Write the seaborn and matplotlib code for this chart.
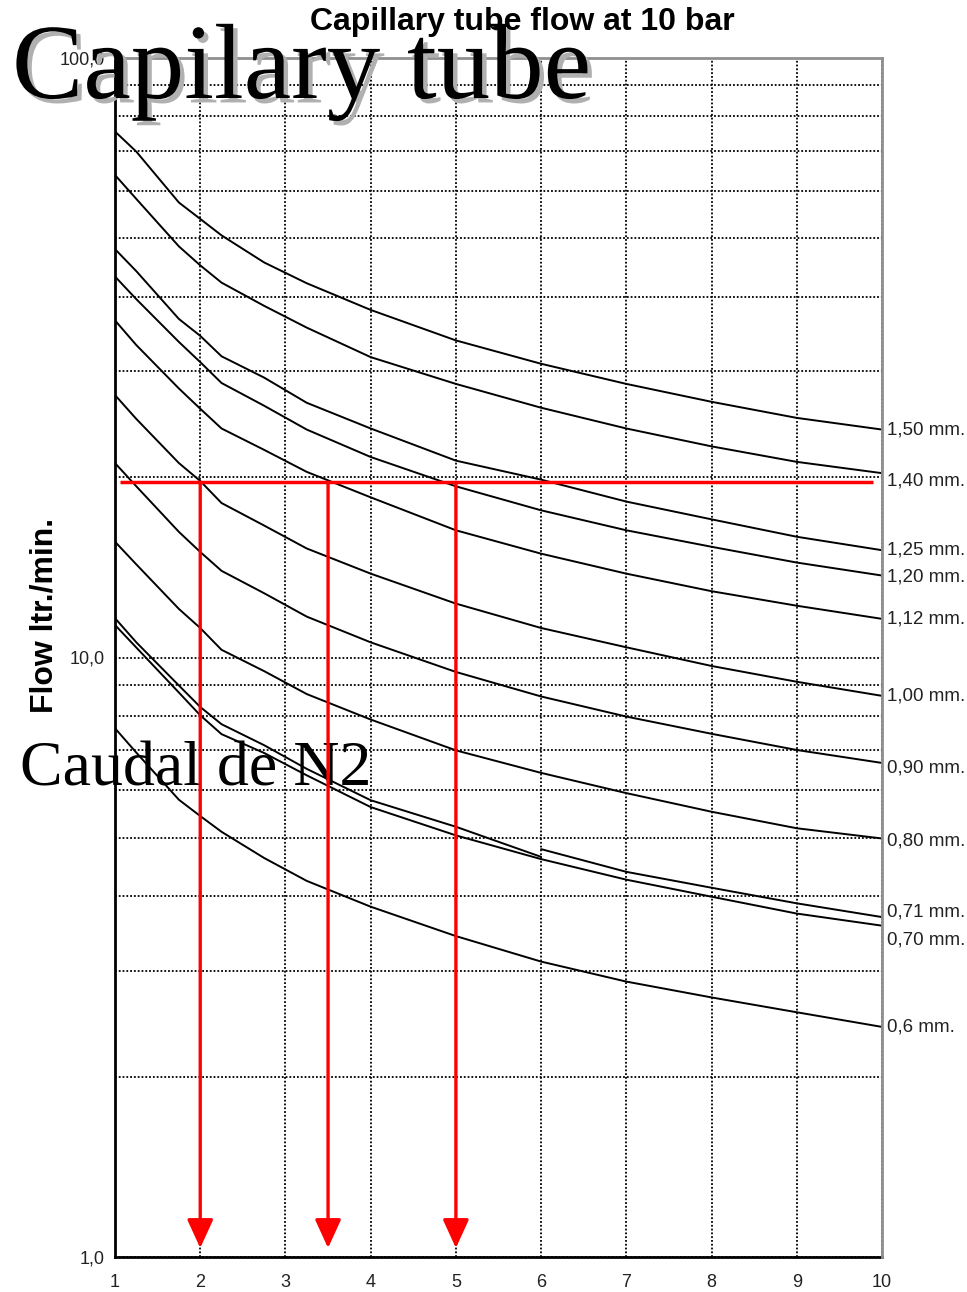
import matplotlib
matplotlib.use("Agg")
import matplotlib.pyplot as plt
import matplotlib.patheffects as pe
from matplotlib.ticker import FixedLocator, FixedFormatter, LogLocator, NullFormatter
import pandas as pd
import seaborn as sns

# Tube length (x axis) sampling points
tube_length = [1, 1.25, 1.75, 2, 2.25, 2.75, 3.25, 4, 5, 6, 7, 8, 9, 10]

# Flow in ltr./min. for each capillary bore
flow_150 = [75.4, 69.8, 57.4, 53.9, 50.6, 45.6, 42.1, 38.0, 33.8, 30.9, 28.6, 26.7, 25.1, 24.0]
flow_140 = [63.8, 58.2, 48.5, 45.1, 42.2, 38.6, 35.5, 31.7, 28.6, 26.1, 24.1, 22.5, 21.2, 20.3]
flow_125 = [48.0, 44.1, 36.7, 34.4, 31.8, 29.3, 26.6, 24.1, 21.3, 19.8, 18.2, 17.0, 15.9, 15.1]
flow_120 = [43.2, 39.6, 33.6, 31.1, 28.7, 26.3, 24.0, 21.6, 19.3, 17.6, 16.3, 15.3, 14.4, 13.7]
flow_112 = [36.5, 33.2, 28.1, 26.0, 24.1, 22.2, 20.4, 18.5, 16.3, 14.9, 13.8, 12.9, 12.2, 11.6]
flow_100 = [27.4, 25.0, 21.1, 19.7, 18.1, 16.6, 15.2, 13.8, 12.3, 11.2, 10.4, 9.68, 9.11, 8.63]
flow_090 = [21.1, 19.3, 16.2, 15.0, 13.95, 12.8, 11.7, 10.6, 9.46, 8.61, 7.97, 7.46, 7.01, 6.67]
flow_080 = [15.6, 14.3, 12.05, 11.2, 10.3, 9.49, 8.69, 7.88, 7.00, 6.42, 5.94, 5.53, 5.19, 4.99]
# 0,71 mm is drawn in two pieces: lengths 1-6 and 6-10
flow_071_short = [11.63, 10.6, 8.98, 8.27, 7.74, 7.14, 6.52, 5.78, 5.22, 4.65]
flow_071_long = [4.79, 4.39, 4.13, 3.89, 3.69]
flow_070 = [11.33, 10.39, 8.74, 8.01, 7.45, 6.93, 6.36, 5.63, 5.05, 4.61, 4.26, 3.99, 3.74, 3.57]
flow_060 = [7.62, 6.94, 5.79, 5.44, 5.12, 4.63, 4.24, 3.84, 3.43, 3.11, 2.88, 2.71, 2.56, 2.42]

bore_labels = ["1,50 mm.", "1,40 mm.", "1,25 mm.", "1,20 mm.", "1,12 mm.", "1,00 mm.",
               "0,90 mm.", "0,80 mm.", "0,71 mm.", "0,70 mm.", "0,6 mm."]

# Reading example: required flow and the resulting lengths
ref_flow = 19.6
ref_span = [1.06, 9.9]
ref_lengths = [2, 3.5, 5]
arrow_tip = 1.035

x_ticks = [1, 2, 3, 4, 5, 6, 7, 8, 9, 10]
x_tick_labels = ["1", "2", "3", "4", "5", "6", "7", "8", "9", "10"]
y_ticks = [1, 10, 100]
y_tick_labels = ["1,0", "10,0", "100,0"]

# ---- assemble long-form table -------------------------------------------
segments = [
    ("1,50 mm.", tube_length, flow_150),
    ("1,40 mm.", tube_length, flow_140),
    ("1,25 mm.", tube_length, flow_125),
    ("1,20 mm.", tube_length, flow_120),
    ("1,12 mm.", tube_length, flow_112),
    ("1,00 mm.", tube_length, flow_100),
    ("0,90 mm.", tube_length, flow_090),
    ("0,80 mm.", tube_length, flow_080),
    ("0,71 mm.", tube_length[:len(flow_071_short)], flow_071_short),
    ("0,71 mm.", tube_length[-len(flow_071_long):], flow_071_long),
    ("0,70 mm.", tube_length, flow_070),
    ("0,6 mm.", tube_length, flow_060),
]
rows = []
for seg_id, (bore, xs, ys) in enumerate(segments):
    for xv, yv in zip(xs, ys):
        rows.append({"bore": bore, "segment": seg_id, "length": xv, "flow": yv})
df = pd.DataFrame(rows)

# ---- styling --------------------------------------------------------------
sns.set_style("white")
plt.rcParams["font.family"] = ["Liberation Sans", "DejaVu Sans"]

fig = plt.figure(figsize=(9.67, 12.92), dpi=100)
ax = fig.add_axes([115 / 967, 1 - 1257 / 1292, (882 - 115) / 967, (1257 - 58) / 1292])

sns.lineplot(data=df, x="length", y="flow", units="segment", estimator=None,
             color="black", linewidth=1.4, sort=False, legend=False, ax=ax, zorder=2)

ax.set_yscale("log")
ax.set_xlim(1, 10)
ax.set_ylim(1, 100)

ax.xaxis.set_major_locator(FixedLocator(x_ticks))
ax.xaxis.set_major_formatter(FixedFormatter(x_tick_labels))
ax.yaxis.set_major_locator(FixedLocator(y_ticks))
ax.yaxis.set_major_formatter(FixedFormatter(y_tick_labels))
ax.yaxis.set_minor_locator(LogLocator(base=10, subs=range(2, 10)))
ax.yaxis.set_minor_formatter(NullFormatter())

ax.tick_params(axis="both", which="major", direction="inout", length=9, width=1.5,
               colors="black", labelcolor="#222222", labelsize=13)
ax.tick_params(axis="x", which="major", pad=8)
ax.tick_params(axis="y", which="major", pad=3)
ax.tick_params(axis="y", which="minor", length=0)

dotted = (0, (1.0, 1.1))
ax.grid(True, axis="x", which="major", color="black", linestyle=dotted, linewidth=1.3)
ax.grid(True, axis="y", which="both", color="black", linestyle=dotted, linewidth=1.3)
ax.set_axisbelow(True)

for side in ["left", "bottom"]:
    ax.spines[side].set_color("black")
    ax.spines[side].set_linewidth(2)
for side in ["top", "right"]:
    ax.spines[side].set_color("#8f8f8f")
    ax.spines[side].set_linewidth(2)
    ax.spines[side].set_zorder(3)

ax.set_xlabel("")
ax.set_ylabel("")

# ---- curve labels at the right edge --------------------------------------
label_shift_pt = {"1,40 mm.": -5.5, "1,20 mm.": -1, "0,90 mm.": -3.5, "0,80 mm.": -2,
                  "0,71 mm.": 3.5, "0,70 mm.": -10}
last_values = {}
for bore, xs, ys in segments:
    last_values[bore] = ys[-1]
for bore in bore_labels:
    ax.annotate(bore, xy=(tube_length[-1], last_values[bore]), xycoords="data",
                xytext=(3.5, label_shift_pt.get(bore, 0)), textcoords="offset points",
                ha="left", va="center", fontsize=13.5, color="#222222",
                annotation_clip=False)

# ---- reading example in red ------------------------------------------------
ax.plot(ref_span, [ref_flow, ref_flow], color="#ff0000", linewidth=2.5,
        solid_capstyle="butt", zorder=5)
for xv in ref_lengths:
    ax.annotate("", xy=(xv, arrow_tip), xytext=(xv, ref_flow),
                arrowprops=dict(arrowstyle="-|>,head_length=1.75,head_width=0.8",
                                mutation_scale=10, color="#ff0000", lw=2.4,
                                shrinkA=0, shrinkB=0),
                zorder=5)

# ---- texts -----------------------------------------------------------------
fig.text(522 / 967, 1 - 22 / 1292, "Capillary tube flow at 10 bar", ha="center",
         va="center", fontsize=23, fontweight="bold", color="black", zorder=6)

fig.text(45 / 967, 1 - 615 / 1292, "Flow ltr./min.", rotation=90, ha="center",
         va="center", fontsize=23, fontweight="bold", color="black")

ax.text(20 / 967, 1 - 786 / 1292, "Caudal de N2", transform=fig.transFigure,
        ha="left", va="baseline", fontsize=46, family=["Liberation Serif", "DejaVu Serif"],
        color="black", zorder=4, clip_on=False)

big = fig.text(12 / 967, 1 - 98 / 1292, "Capilary tube", ha="left", va="baseline",
               fontsize=77, family=["Liberation Serif", "DejaVu Serif"], color="black",
               zorder=5)
big.set_path_effects([pe.withSimplePatchShadow(offset=(3.2, -3.2), shadow_rgbFace="#b0b0b0",
                                               alpha=1.0)])

fig.savefig("out.png", dpi=100, facecolor="white")
